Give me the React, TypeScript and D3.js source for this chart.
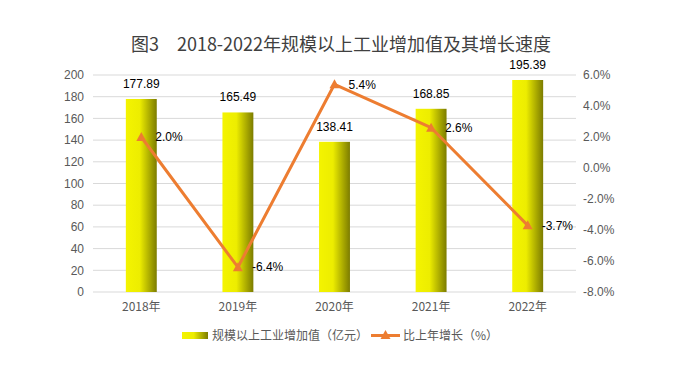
import { scaleBand, scaleLinear, line } from "d3";

// Data
const years = ["2018年", "2019年", "2020年", "2021年", "2022年"];
const addedValue = [177.89, 165.49, 138.41, 168.85, 195.39];
const growthRate = [2.0, -6.4, 5.4, 2.6, -3.7];
const leftTicks = [0, 20, 40, 60, 80, 100, 120, 140, 160, 180, 200];
const rightTicks = [-8, -6, -4, -2, 0, 2, 4, 6];

const W = 680;
const H = 369;
const left = 93;
const right = 576;
const top = 75;
const bottom = 292;
const font = "'Liberation Sans', Arial, sans-serif";
const cjk = "'Noto Sans CJK SC', 'Liberation Sans', sans-serif";

export default function App() {
  // Scales
  const x = scaleBand<string>().domain(years).range([left, right]).paddingInner(0.68).paddingOuter(0.34);
  const yL = scaleLinear().domain([0, 200]).range([bottom, top]);
  const yR = scaleLinear().domain([-8, 6]).range([bottom, top]);
  const cx = (d: string) => x(d)! + x.bandwidth() / 2;

  const pts = years.map((y, i) => ({ y, v: growthRate[i] }));
  const path = line<{ y: string; v: number }>()
    .x((d) => cx(d.y))
    .y((d) => yR(d.v))(pts);

  const tri = (px: number, py: number) =>
    `M${px},${py - 5} L${px + 5},${py + 4} L${px - 5},${py + 4} Z`;

  return (
    <svg width={W} height={H} style={{ position: "absolute", left: 0, top: 0 }}>
      <defs>
        <linearGradient id="barGrad" x1="0" x2="1" y1="0" y2="0">
          <stop offset="0" stopColor="#f4f400" />
          <stop offset="0.45" stopColor="#eded00" />
          <stop offset="1" stopColor="#7c7c00" />
        </linearGradient>
      </defs>
      <rect width={W} height={H} fill="#fff" />

      {/* Title */}
      <text x={341} y={51} textAnchor="middle" fontFamily={cjk} fontSize={18} fill="#404040">
        图3　2018-2022年规模以上工业增加值及其增长速度
      </text>

      {/* Gridlines */}
      {leftTicks.map((t) => (
        <line key={t} x1={left} x2={right} y1={yL(t)} y2={yL(t)} stroke="#d9d9d9" strokeWidth={1} />
      ))}

      {/* Left axis labels */}
      {leftTicks.map((t) => (
        <text key={t} x={84} y={yL(t)} dy="0.35em" textAnchor="end" fontFamily={font} fontSize={12} fill="#595959">
          {t}
        </text>
      ))}

      {/* Right axis labels */}
      {rightTicks.map((t) => (
        <text key={t} x={583} y={yR(t)} dy="0.35em" fontFamily={font} fontSize={12} fill="#595959">
          {t.toFixed(1) + "%"}
        </text>
      ))}

      {/* Bars */}
      {years.map((yr, i) => (
        <rect
          key={yr}
          x={x(yr)}
          y={yL(addedValue[i])}
          width={x.bandwidth()}
          height={yL(0) - yL(addedValue[i])}
          fill="url(#barGrad)"
        />
      ))}

      {/* Bar labels */}
      {years.map((yr, i) => (
        <text key={yr} x={cx(yr)} y={yL(addedValue[i]) - 11} textAnchor="middle" fontFamily={font} fontSize={12} fill="#000">
          {addedValue[i].toFixed(2)}
        </text>
      ))}

      {/* X labels */}
      {years.map((yr) => (
        <text key={yr} x={cx(yr)} y={311} textAnchor="middle" fontFamily={cjk} fontSize={12} fill="#595959">
          {yr}
        </text>
      ))}

      {/* Line */}
      <path d={path ?? ""} fill="none" stroke="#ed7d31" strokeWidth={3} strokeLinejoin="round" />
      {pts.map((p) => (
        <path key={p.y} d={tri(cx(p.y), yR(p.v))} fill="#ed7d31" />
      ))}
      {pts.map((p) => (
        <text key={p.y} x={cx(p.y) + 14} y={yR(p.v)} dy="0.35em" fontFamily={font} fontSize={12} fill="#000">
          {p.v.toFixed(1) + "%"}
        </text>
      ))}

      {/* Legend */}
      <rect x={182} y={332} width={26} height={7} fill="url(#barGrad)" />
      <text x={212} y={336} dy="0.35em" fontFamily={cjk} fontSize={12} fill="#595959">
        规模以上工业增加值（亿元）
      </text>
      <line x1={371} x2={400} y1={335.5} y2={335.5} stroke="#ed7d31" strokeWidth={3} />
      <path d={tri(385.5, 335)} fill="#ed7d31" />
      <text x={403} y={336} dy="0.35em" fontFamily={cjk} fontSize={12} fill="#595959">
        比上年增长（%）
      </text>
    </svg>
  );
}
